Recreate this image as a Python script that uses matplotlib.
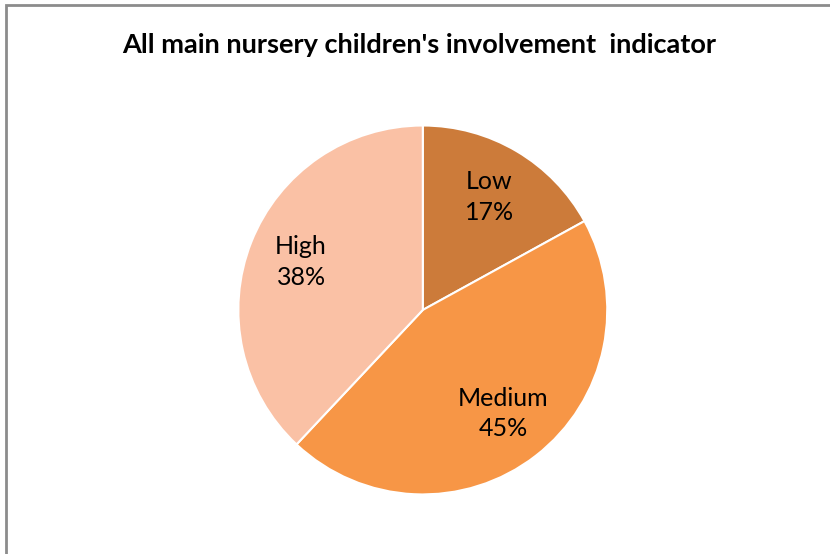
import matplotlib
matplotlib.use('Agg')
import matplotlib.pyplot as plt
from matplotlib.patches import Rectangle

# data
categories = ['Low', 'Medium', 'High']
shares = [17, 45, 38]
colors = ['#CC7B3A', '#F79646', '#FAC1A5']

plt.rcParams['font.family'] = ['Lato', 'DejaVu Sans']

fig = plt.figure(figsize=(8.3, 5.54), dpi=100)

# chart border (only top and left visible in the crop)
fig.patches.append(Rectangle((6 / 830, -0.1), 1.2, (554 - 5) / 554 + 0.1,
                             transform=fig.transFigure, fill=False,
                             edgecolor='#8C8C8C', linewidth=2, zorder=0))

ax = fig.add_axes([0.2865, 0.1065, 0.4458, 0.668])
labels = [f'{c}\n{v}%' for c, v in zip(categories, shares)]
wedges, texts = ax.pie(shares, labels=labels, colors=colors, startangle=90,
                       counterclock=False, labeldistance=0.71,
                       wedgeprops=dict(edgecolor='white', linewidth=1.5),
                       textprops=dict(fontsize=18, color='black', ha='center',
                                      va='center', linespacing=1.4))
ax.set_xlim(-1.003, 1.003)
ax.set_ylim(-1.003, 1.003)
ax.set_aspect('equal')

fig.text(0.505, 0.918, "All main nursery children's involvement  indicator",
         ha='center', va='center', fontsize=19.5, fontweight='bold')

plt.savefig('out.png', dpi=100)
